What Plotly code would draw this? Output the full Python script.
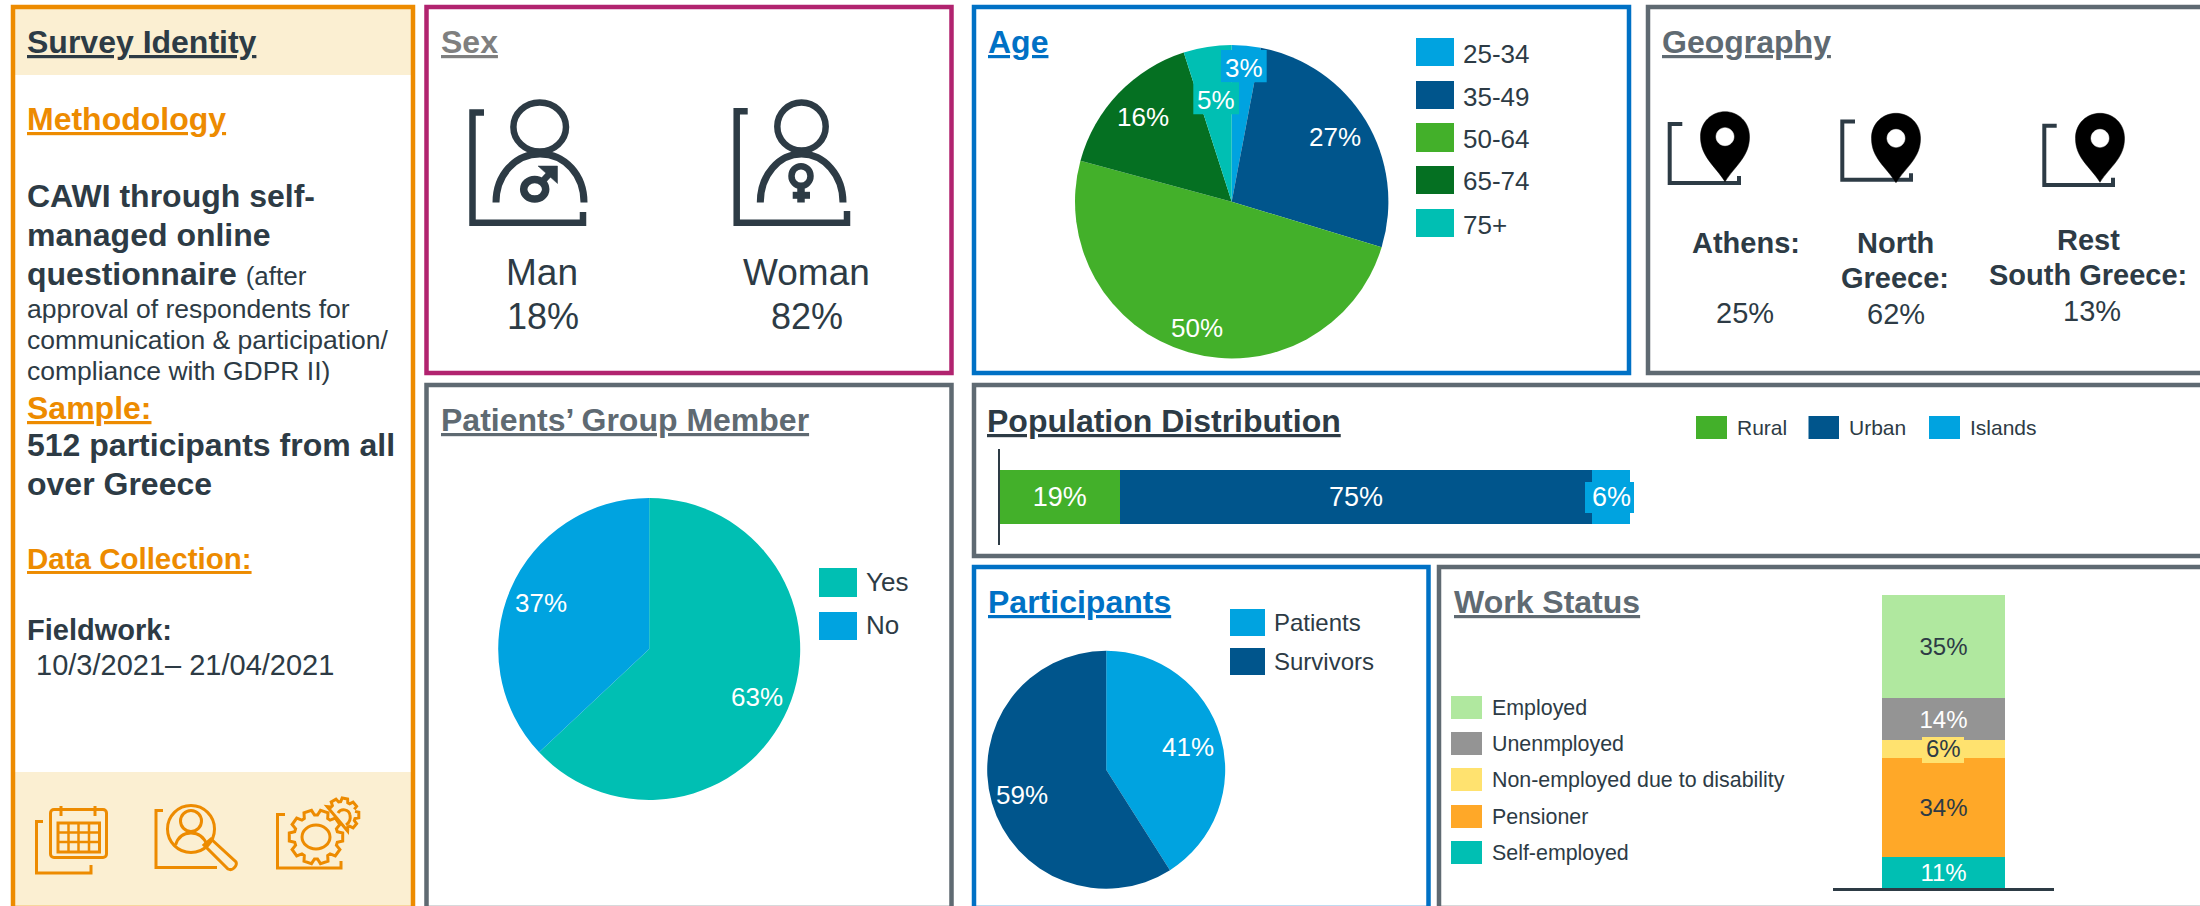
import math
import plotly.graph_objects as go

W, H = 2200, 906
DARK = "#2D3B45"
ORANGE = "#ED8B00"
CREAM = "#FBEFD2"
PINK = "#B1236F"
BLUE = "#0071C5"
GRAY = "#5F6A72"
LBLUE = "#00A3E0"
NAVY = "#00558C"
GREEN = "#43B02A"
DGREEN = "#057022"
TEAL = "#00BFB3"
FONT = "Liberation Sans"

# ---------- data ----------
sex_labels = ["Man", "Woman"]
sex_shares = ["18%", "82%"]

age_labels = ["25-34", "35-49", "50-64", "65-74", "75+"]
age_values = [3, 27, 50, 16, 5]
age_colors = [LBLUE, NAVY, GREEN, DGREEN, TEAL]

geo_labels = ["Athens:", "North<br>Greece:", "Rest<br>South Greece:"]
geo_shares = ["25%", "62%", "13%"]

member_labels = ["Yes", "No"]
member_values = [63, 37]
member_colors = [TEAL, LBLUE]

population_labels = ["Rural", "Urban", "Islands"]
population_values = [19, 75, 6]
population_colors = [GREEN, NAVY, LBLUE]

participant_labels = ["Patients", "Survivors"]
participant_values = [41, 59]
participant_colors = [LBLUE, NAVY]

work_labels = ["Employed", "Unenmployed", "Non-employed due to disability", "Pensioner", "Self-employed"]
work_values = [35.3, 14.2, 6.1, 33.8, 10.6]
work_colors = ["#B0E89F", "#949494", "#FFE26F", "#FFA828", TEAL]
work_text_colors = [DARK, "white", DARK, DARK, "white"]


# ---------- helpers ----------
def fx(x):
    return x / W


def fy(y):
    return 1 - y / H


def P(cmds):
    """Convert an SVG path given in canvas pixels to paper coordinates."""
    out, toks = [], cmds.split()
    is_x = True
    for t in toks:
        if t.isalpha():
            out.append(t)
            is_x = True
        else:
            v = float(t)
            out.append(f"{fx(v):.6f}" if is_x else f"{fy(v):.6f}")
            is_x = not is_x
    return " ".join(out)


def ell(cx, cy, rx, ry):
    k = 0.5523
    return (f"M {cx-rx} {cy} C {cx-rx} {cy-k*ry} {cx-k*rx} {cy-ry} {cx} {cy-ry} "
            f"C {cx+k*rx} {cy-ry} {cx+rx} {cy-k*ry} {cx+rx} {cy} "
            f"C {cx+rx} {cy+k*ry} {cx+k*rx} {cy+ry} {cx} {cy+ry} "
            f"C {cx-k*rx} {cy+ry} {cx-rx} {cy+k*ry} {cx-rx} {cy} Z")


shapes = []
annotations = []


def rect(x0, y0, x1, y1, fill=None, line=None, lw=0, layer="below"):
    shapes.append(dict(type="rect", xref="paper", yref="paper", x0=fx(x0), x1=fx(x1), y0=fy(y0), y1=fy(y1),
                       fillcolor=fill or "rgba(0,0,0,0)", line=dict(color=line or "rgba(0,0,0,0)", width=lw),
                       layer=layer))


def path(d, color=DARK, lw=4, fill=None):
    shapes.append(dict(type="path", xref="paper", yref="paper", path=P(d),
                       fillcolor=fill or "rgba(0,0,0,0)", line=dict(color=color, width=lw), layer="above"))


def T(text, x, y, size, color=DARK, anchor="left", pad=1):
    if anchor == "left":
        x -= 2
    annotations.append(dict(text=text, x=fx(x), y=fy(y), xref="paper", yref="paper", showarrow=False, xanchor=anchor,
                            yanchor="middle", align=anchor, font=dict(family=FONT, size=size, color=color),
                            borderpad=pad))


def title(text, x, y, color, size=32):
    T(f"<u><b>{text}</b></u>", x, y, size, color)


def legend_items(labels, colors, boxes, text_x, size, dy=0):
    for lab, col, (x0, y0, x1, y1) in zip(labels, colors, boxes):
        rect(x0, y0, x1, y1, fill=col)
        T(lab, text_x if not isinstance(text_x, dict) else text_x[lab], (y0 + y1) / 2 + dy, size)


# ---------- panels ----------
rect(15, 9, 411, 75, fill=CREAM)
rect(15, 772, 411, 906, fill=CREAM)
panel_boxes = [
    (13, 7, 413, 908, ORANGE),
    (426.5, 7, 951.5, 373, PINK),
    (974, 7, 1629, 373, BLUE),
    (1648, 7, 2210, 373, GRAY),
    (426.5, 385, 951.5, 908, GRAY),
    (974, 385, 2210, 556, GRAY),
    (974, 567, 1428.5, 908, BLUE),
    (1439, 567, 2210, 908, GRAY),
]
for x0, y0, x1, y1, c in panel_boxes:
    rect(x0, y0, x1, y1, line=c, lw=4.5)

# ---------- left column text ----------
title("Survey Identity", 27, 42, DARK)
title("Methodology", 27, 119, ORANGE)
left_lines = [
    ("<b>CAWI through self-</b>", 196),
    ("<b>managed online</b>", 235),
    ('<b>questionnaire</b> <span style="font-size:26px">(after</span>', 274),
]
for t, y in left_lines:
    T(t, 27, y, 32)
for t, y in [("approval of respondents for", 309),
             ("communication &amp; participation/", 340),
             ("compliance with GDPR II)", 371)]:
    T(t, 27, y, 26.5)
title("Sample:", 27, 408, ORANGE)
T("<b>512 participants from all</b>", 27, 445, 32)
T("<b>over Greece</b>", 27, 484, 32)
title("Data Collection:", 27, 558, ORANGE, 29.5)
T("<b>Fieldwork:</b>", 27, 630, 29)
T("10/3/2021– 21/04/2021", 36, 665, 29)

# ---------- sex ----------
title("Sex", 441, 42, "#7F7F7F")
sex_x = [542, 806]
for lab, share, x in zip(sex_labels, sex_shares, sex_x):
    T(lab, x, 272, 37, anchor="center")
    T(share, x + 1, 316, 36, anchor="center")

path("M 484 112.5 L 472.5 112.5 L 472.5 222.7 L 583 222.7 L 583 212", lw=6.5)
path(ell(539.7, 127, 26.3, 24.6), lw=6.5)
path("M 496 202.5 C 496 175 515 154 540 154 C 565 154 584 175 584 202.5", lw=7)
path(ell(534.7, 189.3, 11, 9.8), lw=7.5)
path("M 538 166 L 557.5 166 L 557.5 183.5 Z", fill=DARK, lw=0.5)
path("M 541 183 L 552 171", lw=6.5)

path("M 747.7 111.3 L 736.7 111.3 L 736.7 222.7 L 847 222.7 L 847 211", lw=6.5)
path(ell(801.5, 126.5, 24.2, 24), lw=6.5)
path("M 760.3 202.5 C 760.3 175 779 154 801.5 154 C 824 154 843 175 843 202.5", lw=7)
path(ell(801, 176, 9.5, 9.8), lw=6.5)
path("M 801 187 L 801 202.5", lw=7.5)
path("M 792.7 195.3 L 810 195.3", lw=7)

# ---------- geography ----------
title("Geography", 1662, 42, GRAY)
geo_label_x = [1745.5, 1895, 2088]
geo_label_y = [243, 260.5, 257.5]
geo_share_x = [1745, 1896, 2092]
geo_share_y = [313, 314, 311]
for lab, share, x, y, sx, sy in zip(geo_labels, geo_shares, geo_label_x, geo_label_y, geo_share_x, geo_share_y):
    lines = lab.split("<br>")
    for k, ln in enumerate(lines):
        T(f"<b>{ln}</b>", x, y + (k - (len(lines) - 1) / 2) * 35, 29, anchor="center")
    T(share, sx, sy, 29, anchor="center")

pins = [(1725, 111.7, 181.7), (1896, 113.3, 182.7), (2100, 113.3, 182.3)]
frames = [(1669.7, 1682.3, 124, 183, 1739, 176), (1842.3, 1855, 121.5, 179.7, 1911, 173.3),
          (2044.3, 2056.7, 125.7, 185, 2113, 177.7)]
for (cx, top, tip), (xl, xt, yt, yb, xr, yr) in zip(pins, frames):
    path(f"M {xt} {yt} L {xl} {yt} L {xl} {yb} L {xr} {yb} L {xr} {yr}", lw=4)
    mid = top + 25
    path(f"M {cx} {tip} C {cx-10} {tip-16} {cx-24.5} {mid+20} {cx-24.5} {mid} "
         f"C {cx-24.5} {top+10} {cx-13} {top} {cx} {top} C {cx+13} {top} {cx+24.5} {top+10} {cx+24.5} {mid} "
         f"C {cx+24.5} {mid+20} {cx+10} {tip-16} {cx} {tip} Z", color="black", lw=0.5, fill="black")
    path(ell(cx, mid, 9, 9), color="white", lw=0.5, fill="white")

# ---------- calendar icon ----------
path("M 43 821.5 L 36.5 821.5 L 36.5 873 L 91 873 L 91 865", ORANGE, 3)
path("M 54 809.5 L 103 809.5 C 105 809.5 106.5 811 106.5 813 L 106.5 854 C 106.5 856 105 857.5 103 857.5 "
     "L 54 857.5 C 52 857.5 50.5 856 50.5 854 L 50.5 813 C 50.5 811 52 809.5 54 809.5 Z", ORANGE, 3)
path("M 61 806 L 61 816", ORANGE, 3)
path("M 95 806 L 95 816", ORANGE, 3)
path("M 58 823 L 99.5 823 L 99.5 852 L 58 852 Z", ORANGE, 3)
for gx in (68.5, 78.5, 89):
    path(f"M {gx} 823 L {gx} 852", ORANGE, 2.5)
for gy in (832.5, 842):
    path(f"M 58 {gy} L 99.5 {gy}", ORANGE, 2.5)

# ---------- magnifier icon ----------
path("M 163 810.5 L 156 810.5 L 156 867.5 L 217 867.5", ORANGE, 3)
path(ell(191, 829, 23.5, 23.5), ORANGE, 3)
path(ell(191, 821, 10.5, 10.5), ORANGE, 3)
path("M 175.5 845 C 178 837 184 833 191 833 C 198 833 204 837 207 845", ORANGE, 3)
path("M 204 845 L 211 839 L 236 862 C 237 864 236 866 234 868 C 232 870 230 870 228 869 Z", ORANGE, 3)


# ---------- gears icon ----------
def gear(cx, cy, r_out, r_in, teeth, skip=None):
    pts = []
    step = 2 * math.pi / teeth
    for i in range(teeth):
        a = i * step
        for da, r in [(-0.30, r_in), (-0.18, r_out), (0.18, r_out), (0.30, r_in)]:
            t = a + da * step * 1.3
            pts.append((cx + r * math.cos(t), cy + r * math.sin(t)))
    if skip:
        pts = [p for p in pts if not skip(p)]
        return "M " + " L ".join(f"{x:.1f} {y:.1f}" for x, y in pts)
    return "M " + " L ".join(f"{x:.1f} {y:.1f}" for x, y in pts) + " Z"


path("M 285 814.5 L 277.5 814.5 L 277.5 868 L 341 868 L 341 861", ORANGE, 3)
path(gear(316, 837, 27, 22, 10), ORANGE, 3)
path(ell(316, 837, 14, 12), ORANGE, 3)
path(gear(342, 815, 17, 13.5, 9, skip=lambda p: math.hypot(p[0] - 316, p[1] - 837) < 29), ORANGE, 3)
path("M 338 813 C 341 808 349 809 350 815 C 351 820 349 823 346 825", ORANGE, 3)

# ---------- traces ----------
fig = go.Figure()


def add_pie(labels, values, colors, cx, cy, r):
    fig.add_trace(go.Pie(labels=labels, values=values, marker=dict(colors=colors, line=dict(width=0)),
                         sort=False, direction="clockwise", rotation=0, textinfo="none", showlegend=False,
                         hoverinfo="label+percent",
                         domain=dict(x=[fx(cx - r), fx(cx + r)], y=[fy(cy + r), fy(cy - r)])))


def pie_labels(values, positions):
    for v, (x, y) in zip(values, positions):
        T(f"{v}%", x, y, 26, color="white", anchor="center")


# age
title("Age", 988, 42, BLUE)
add_pie(age_labels, age_values, age_colors, 1231.7, 201.7, 156.7)
rect(1221, 50, 1266.7, 82.3, fill=LBLUE, layer="above")
rect(1193.3, 82.3, 1239, 114.3, fill=TEAL, layer="above")
pie_labels(age_values, [(1243.5, 68), (1335, 137), (1196.7, 328), (1142.7, 117), (1215.7, 100)])
legend_items(age_labels, age_colors,
             [(1416, 38, 1454, 66), (1416, 81, 1454, 109), (1416, 123, 1454, 152), (1416, 166, 1454, 194),
              (1416, 209, 1454, 237)], 1463, 26, dy=1.5)

# patients' group
title("Patients’ Group Member", 441, 420, GRAY)
add_pie(member_labels, member_values, member_colors, 649.2, 649, 151)
pie_labels(member_values, [(756.7, 697), (541, 603)])
legend_items(member_labels, member_colors, [(819, 568, 857, 597), (819, 612, 857, 640)], 866, 26, dy=-1)

# participants
title("Participants", 988, 602, BLUE)
add_pie(participant_labels, participant_values, participant_colors, 1106.2, 769.7, 119)
pie_labels(participant_values, [(1188, 747), (1022.3, 794.5)])
legend_items(participant_labels, participant_colors, [(1230, 609, 1265, 636), (1230, 648, 1265, 675)], 1274, 24)

# population bar
title("Population Distribution", 987, 421, DARK)
for i, (lab, val, col) in enumerate(zip(population_labels, population_values, population_colors)):
    fig.add_trace(go.Bar(x=[val], y=[0], orientation="h", width=[0.5625], name=lab, marker=dict(color=col, line=dict(width=0)),
                         text=[f"{val}%"] if i < 2 else None, textposition="inside", insidetextanchor="middle",
                         constraintext="none", textangle=0, textfont=dict(family=FONT, size=27, color="white"),
                         xaxis="x", yaxis="y", showlegend=False))
rect(1585, 482, 1634, 513, fill=LBLUE, layer="above")
annotations.append(dict(text=f"{population_values[2]}%", x=sum(population_values[:2]) + population_values[2] / 2,
                        y=0, xref="x", yref="y", showarrow=False, borderpad=0,
                        font=dict(family=FONT, size=27, color="white")))
legend_items(population_labels, population_colors,
             [(1696, 416, 1727, 439), (1808.5, 416, 1839, 439), (1929, 416, 1960, 439)],
             {"Rural": 1737, "Urban": 1849, "Islands": 1970}, 21)

# work bar (stacked bottom to top: last listed first)
title("Work Status", 1454, 602, GRAY)
for lab, val, col, tc in reversed(list(zip(work_labels, work_values, work_colors, work_text_colors))):
    show = lab != work_labels[2]
    fig.add_trace(go.Bar(x=[0], y=[val], width=[0.5566], name=lab, marker=dict(color=col, line=dict(width=0)),
                         text=[f"{val:.0f}%"] if show else None, textposition="inside", insidetextanchor="middle",
                         constraintext="none", textangle=0, textfont=dict(family=FONT, size=24, color=tc),
                         xaxis="x2", yaxis="y2", showlegend=False))
rect(1922, 737, 1964, 763, fill=work_colors[2], layer="above")
annotations.append(dict(text=f"{work_values[2]:.0f}%", x=0, y=work_values[4] + work_values[3] + work_values[2] / 2,
                        xref="x2", yref="y2", showarrow=False, borderpad=0,
                        font=dict(family=FONT, size=24, color=DARK)))
legend_items(work_labels, work_colors,
             [(1451, 696, 1482, 719), (1451, 732, 1482, 755), (1451, 768, 1482, 791), (1451, 805, 1482, 828),
              (1451, 841, 1482, 864)], 1492, 21.4)

fig.update_layout(
    width=W, height=H, margin=dict(l=0, r=0, t=0, b=0), paper_bgcolor="white", plot_bgcolor="rgba(0,0,0,0)",
    barmode="stack", font=dict(family=FONT, color=DARK), showlegend=False,
    xaxis=dict(domain=[fx(1000), fx(1630)], range=[0, 100], visible=False, fixedrange=True),
    yaxis=dict(domain=[fy(545), fy(449)], range=[-0.5, 0.5], showticklabels=False, ticks="", showgrid=False,
               zeroline=False, showline=True, linecolor=DARK, linewidth=1.5, fixedrange=True),
    xaxis2=dict(domain=[fx(1833), fx(2054)], range=[-0.5, 0.5], anchor="y2", showticklabels=False, ticks="",
                showgrid=False, zeroline=False, showline=True, linecolor=DARK, linewidth=2.5, fixedrange=True),
    yaxis2=dict(domain=[fy(888), fy(595)], range=[0, 100], anchor="x2", visible=False, fixedrange=True),
    shapes=shapes, annotations=annotations,
)

fig.write_html("out.html", config=dict(displayModeBar=False),
               post_script="document.body.style.margin='0';document.documentElement.style.overflow='hidden';")
